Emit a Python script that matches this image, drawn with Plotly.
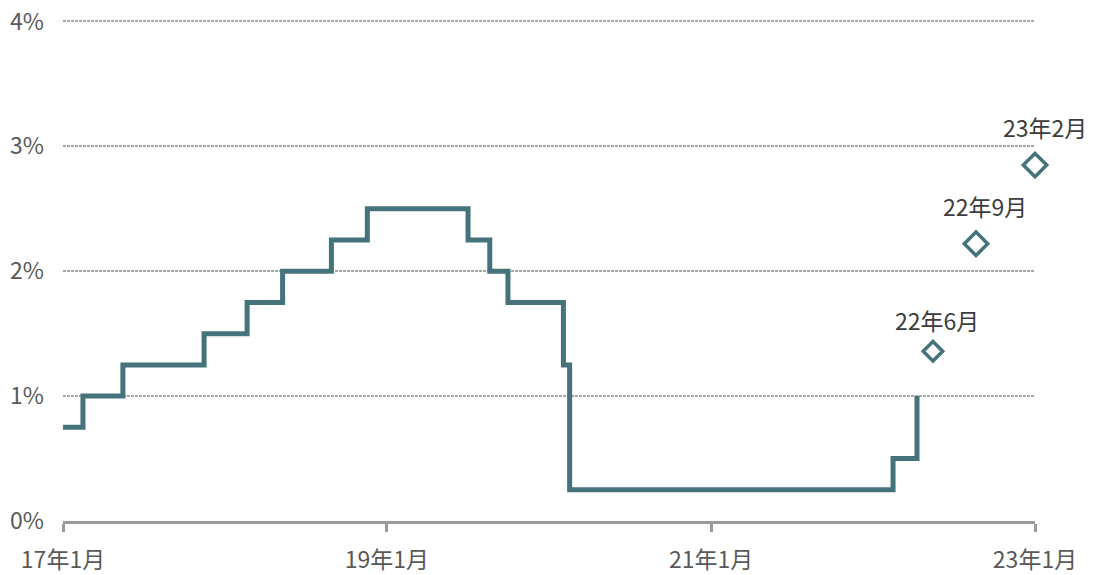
import plotly.graph_objects as go

# Policy rate steps (date of change, level %)
step_dates = ["2017-01-01", "2017-02-15", "2017-05-16", "2017-11-15", "2018-02-20",
              "2018-05-11", "2018-08-29", "2018-11-18", "2019-07-03", "2019-08-21",
              "2019-10-01", "2020-02-03", "2020-02-17", "2022-02-15", "2022-04-10"]
step_rates = [0.75, 1.0, 1.25, 1.5, 1.75, 2.0, 2.25, 2.5, 2.25, 2.0, 1.75, 1.25, 0.25, 0.5, 1.0]

# Projected points
proj_dates = ["2022-05-16", "2022-08-21", "2023-01-01"]
proj_rates = [1.36, 2.22, 2.85]
proj_labels = ["22年6月", "22年9月", "23年2月"]

# Axis ticks
x_tickvals = ["2017-01-01", "2019-01-01", "2021-01-01", "2023-01-01"]
x_ticktext = ["17年1月", "19年1月", "21年1月", "23年1月"]
y_tickvals = [0, 1, 2, 3, 4]
y_ticktext = ["0%", "1%", "2%", "3%", "4%"]

COLOR = "#45737b"
FONT = "Noto Sans CJK JP"

# style-only lists
marker_sizes = [15, 18, 18]
label_yshift = [31, 38, 38]
label_xshift = [4, 9, 10]

fig = go.Figure()
fig.add_trace(go.Scatter(
    x=step_dates, y=step_rates, mode="lines",
    line=dict(color=COLOR, width=5, shape="hv"),
    hoverinfo="skip", showlegend=False, cliponaxis=False,
))
fig.add_trace(go.Scatter(
    x=proj_dates, y=proj_rates, mode="markers",
    marker=dict(symbol="diamond", size=marker_sizes, color="white", opacity=1,
                line=dict(width=3.5, color=COLOR)),
    showlegend=False, cliponaxis=False,
))
for d, v, t, xs, ys in zip(proj_dates, proj_rates, proj_labels, label_xshift, label_yshift):
    fig.add_annotation(x=d, y=v, text=t, showarrow=False, xshift=xs, yshift=ys,
                       font=dict(family=FONT, size=23, color="#3c3c3c"))

# plot area: x 63-1035, y 22 (4%) to 521 (0%)
fig.update_layout(
    width=1108, height=575,
    margin=dict(l=63, r=73, t=14, b=54),
    paper_bgcolor="white", plot_bgcolor="white",
    font=dict(family=FONT, size=23, color="#595959"),
    xaxis=dict(
        type="date", range=["2017-01-01", "2023-01-01"], automargin=False,
        tickvals=x_tickvals, ticktext=x_ticktext,
        showgrid=False, zeroline=False,
        showline=True, linecolor="#999999", linewidth=3,
        ticks="outside", ticklen=8, tickwidth=3, tickcolor="#999999",
        ticklabelstandoff=8, ticklabeloverflow="allow",
        tickfont=dict(family=FONT, size=23, color="#595959"),
    ),
    yaxis=dict(
        range=[0, 4.06], tickvals=y_tickvals, ticktext=y_ticktext, automargin=False,
        showgrid=True, gridcolor="#a6a6a6", gridwidth=2, griddash="3px,1px",
        zeroline=False, showline=False, ticks="",
        ticklabelstandoff=18, ticklabeloverflow="allow",
        tickfont=dict(family=FONT, size=23, color="#595959"),
    ),
)

fig.write_html("out.html", config={"displayModeBar": False},
               post_script="document.body.style.margin='0';")
